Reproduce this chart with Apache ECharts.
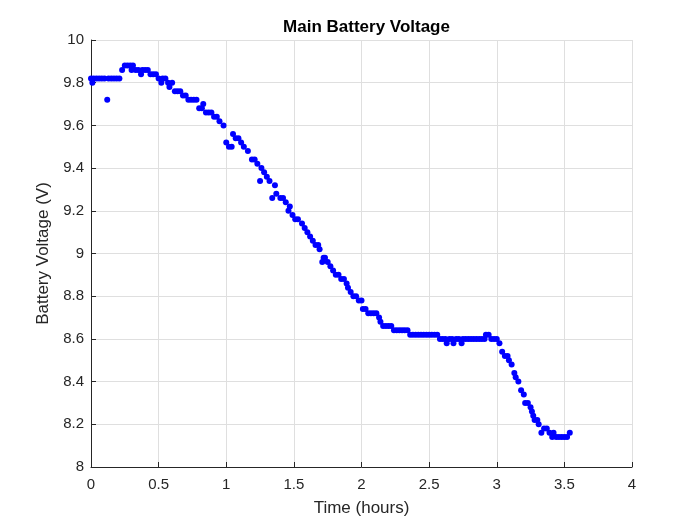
<!DOCTYPE html>
<html><head><meta charset="utf-8">
<script src="https://cdn.jsdelivr.net/npm/echarts@6/dist/echarts.min.js"></script>
<style>html,body{margin:0;padding:0;background:#fff}#c{width:700px;height:525px}</style>
</head><body><div id="c"></div>
<script>
const titleText = "Main Battery Voltage";
const xLabel = "Time (hours)";
const yLabel = "Battery Voltage (V)";
const timeHours = [
0.00,0.01,0.02,0.04,0.06,0.08,0.10,0.12,0.13,0.15,0.17,0.19,0.21,0.23,0.25,0.27,0.29,0.30,0.31,0.33,
0.35,0.37,0.38,0.40,0.42,0.44,0.46,0.48,0.50,0.52,0.53,0.55,0.57,0.58,0.60,0.62,0.64,0.66,0.68,0.70,
0.72,0.74,0.76,0.78,0.80,0.82,0.83,0.85,0.87,0.89,0.91,0.93,0.95,0.98,1.00,1.02,1.04,1.05,1.07,1.09,
1.11,1.13,1.16,1.19,1.21,1.23,1.25,1.26,1.28,1.30,1.32,1.34,1.36,1.37,1.40,1.42,1.44,1.46,1.47,1.49,
1.51,1.53,1.56,1.58,1.60,1.62,1.64,1.66,1.68,1.69,1.71,1.72,1.73,1.75,1.77,1.79,1.81,1.83,1.85,1.87,
1.89,1.90,1.92,1.94,1.96,1.98,2.00,2.01,2.03,2.05,2.07,2.09,2.11,2.13,2.14,2.16,2.18,2.20,2.22,2.24,
2.26,2.28,2.30,2.32,2.34,2.36,2.38,2.40,2.42,2.44,2.46,2.48,2.50,2.52,2.54,2.56,2.58,2.60,2.62,2.63,
2.65,2.67,2.68,2.70,2.72,2.74,2.75,2.77,2.79,2.81,2.83,2.85,2.87,2.89,2.91,2.92,2.94,2.96,2.98,3.00,
3.02,3.04,3.06,3.08,3.09,3.11,3.13,3.14,3.16,3.18,3.20,3.21,3.23,3.25,3.26,3.27,3.28,3.30,3.31,3.33,
3.35,3.37,3.39,3.41,3.42,3.44,3.46,3.48,3.50,3.52,3.54
];
const voltage = [
9.82,9.80,9.82,9.82,9.82,9.82,9.82,9.72,9.82,9.82,9.82,9.82,9.82,9.86,9.88,9.88,9.88,9.86,9.88,9.86,
9.86,9.84,9.86,9.86,9.86,9.84,9.84,9.84,9.82,9.80,9.82,9.82,9.80,9.78,9.80,9.76,9.76,9.76,9.74,9.74,
9.72,9.72,9.72,9.72,9.68,9.68,9.70,9.66,9.66,9.66,9.64,9.64,9.62,9.60,9.52,9.50,9.50,9.56,9.54,9.54,
9.52,9.50,9.48,9.44,9.44,9.42,9.34,9.40,9.38,9.36,9.34,9.26,9.32,9.28,9.26,9.26,9.24,9.20,9.22,9.18,
9.16,9.16,9.14,9.12,9.10,9.08,9.06,9.04,9.04,9.02,8.96,8.98,8.98,8.96,8.94,8.92,8.90,8.90,8.88,8.88,
8.86,8.84,8.82,8.80,8.80,8.78,8.78,8.74,8.74,8.72,8.72,8.72,8.72,8.70,8.68,8.66,8.66,8.66,8.66,8.64,
8.64,8.64,8.64,8.64,8.64,8.62,8.62,8.62,8.62,8.62,8.62,8.62,8.62,8.62,8.62,8.62,8.60,8.60,8.60,8.58,
8.60,8.60,8.58,8.60,8.60,8.58,8.60,8.60,8.60,8.60,8.60,8.60,8.60,8.60,8.60,8.62,8.62,8.60,8.60,8.60,
8.58,8.54,8.52,8.52,8.50,8.48,8.44,8.42,8.40,8.36,8.34,8.30,8.30,8.28,8.26,8.24,8.22,8.22,8.20,8.16,
8.18,8.18,8.16,8.14,8.16,8.14,8.14,8.14,8.14,8.14,8.16
];
const xTicks = [0,0.5,1,1.5,2,2.5,3,3.5,4];
const yTicks = [8,8.2,8.4,8.6,8.8,9,9.2,9.4,9.6,9.8,10];

const font = "'Liberation Sans', Arial, Helvetica, sans-serif";
const axisColor = '#262626';
const chart = echarts.init(document.getElementById('c'), null, {renderer:'canvas'});
const pts = timeHours.map((t,i)=>[t, voltage[i]]);
chart.setOption({
  animation:false,
  backgroundColor:'#ffffff',
  title:{text:titleText,left:361.5,top:14,textAlign:'center',
    textStyle:{fontFamily:font,fontWeight:'bold',fontSize:17,color:'#000'}},
  grid:{left:91,right:68,top:40,bottom:58,containLabel:false},
  xAxis:{type:'value',min:xTicks[0],max:xTicks[xTicks.length-1],interval:0.5,
    name:xLabel,nameLocation:'middle',nameGap:33,
    nameTextStyle:{fontFamily:font,fontSize:17,color:axisColor},
    axisLine:{show:true,onZero:false,lineStyle:{color:axisColor,width:1}},
    axisTick:{show:true,inside:true,length:5,lineStyle:{color:axisColor}},
    axisLabel:{fontFamily:font,fontSize:15,color:axisColor,margin:10,
      formatter:v=>String(+v.toFixed(1))},
    splitLine:{show:true,lineStyle:{color:'#dfdfdf',width:1}}},
  yAxis:{type:'value',min:yTicks[0],max:yTicks[yTicks.length-1],interval:0.2,
    name:yLabel,nameLocation:'middle',nameGap:37,
    nameTextStyle:{fontFamily:font,fontSize:17,color:axisColor},
    axisLine:{show:true,onZero:false,lineStyle:{color:axisColor,width:1}},
    axisTick:{show:true,inside:true,length:5,lineStyle:{color:axisColor}},
    axisLabel:{fontFamily:font,fontSize:15,color:axisColor,margin:7,
      formatter:v=>String(+v.toFixed(1))},
    splitLine:{show:true,lineStyle:{color:'#dfdfdf',width:1}}},
  series:[{type:'scatter',data:pts,symbol:'circle',symbolSize:6,
    itemStyle:{color:'#0000ff',opacity:1}}]
});
</script></body></html>
